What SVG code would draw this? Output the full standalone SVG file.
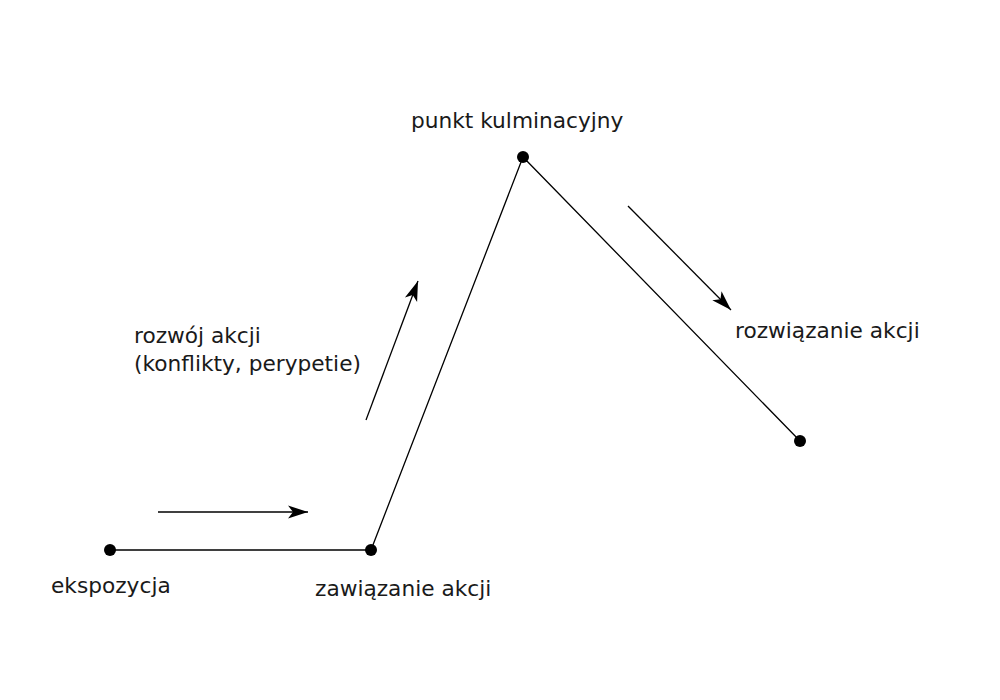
<svg xmlns="http://www.w3.org/2000/svg" width="1000" height="700" viewBox="0 0 1000 700">
<style>
text{font-family:"DejaVu Sans",sans-serif;font-size:21.7px;fill:#1a1a1a}
.line{stroke:#000;stroke-width:1.3;fill:none}
.arr{stroke:#000;stroke-width:1.3;fill:none;marker-end:url(#ah)}
.dot{fill:#000}
</style>
<defs>
<marker id="ah" viewBox="-2 -8 26 16" refX="20" refY="0" markerWidth="26" markerHeight="16" markerUnits="userSpaceOnUse" orient="auto">
<path d="M0,-6.5 L20,0 L0,6.5 L5,0 Z" fill="#000"/>
</marker>
</defs>
<rect width="1000" height="700" fill="#fff"/>
<g id="connectors">
<polyline class="line" points="110,550 371,550 523,157 800,441"/>
<line class="arr" x1="158" y1="512" x2="308" y2="512"/>
<line class="arr" x1="366" y1="420" x2="418" y2="281"/>
<line class="arr" x1="628" y1="206" x2="731" y2="310"/>
</g>
<g id="ekspozycja"><circle class="dot" cx="110" cy="550" r="6"/><text x="51" y="593">ekspozycja</text></g>
<g id="zawiazanie"><circle class="dot" cx="371" cy="550" r="6"/><text x="315" y="596">zawiązanie akcji</text></g>
<g id="punkt"><circle class="dot" cx="523" cy="157" r="6"/><text x="411" y="128">punkt kulminacyjny</text></g>
<g id="rozwiazanie"><circle class="dot" cx="800" cy="441" r="6"/><text x="735" y="338">rozwiązanie akcji</text></g>
<g id="rozwoj"><text x="134" y="343">rozwój akcji</text><text x="134" y="371">(konflikty, perypetie)</text></g>
</svg>
